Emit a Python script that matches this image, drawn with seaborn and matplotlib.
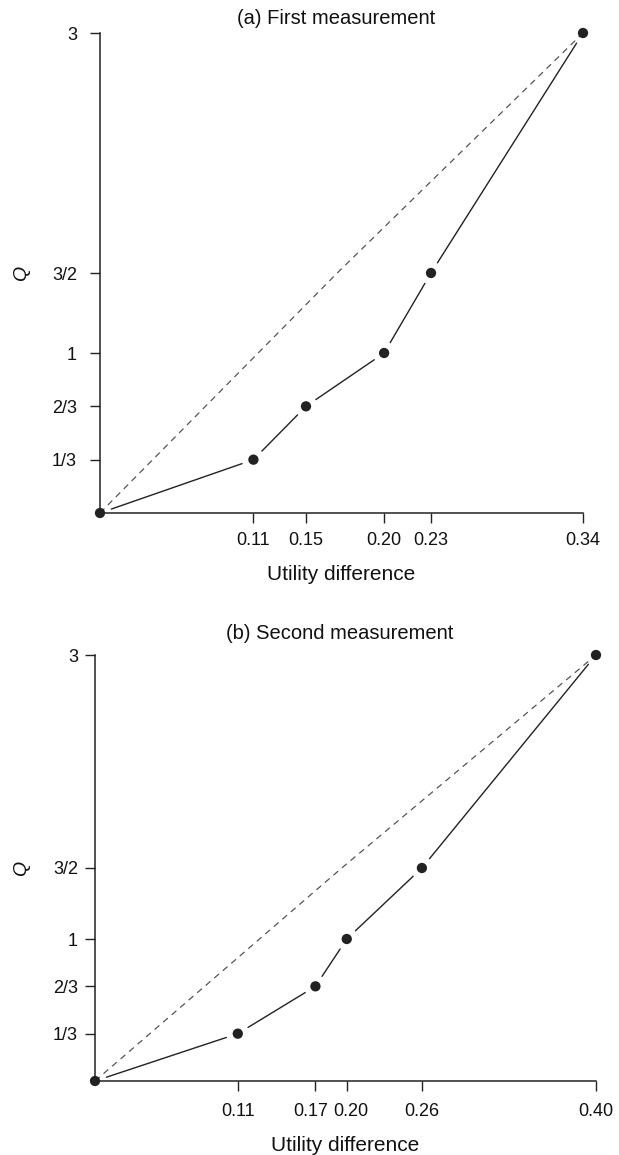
import matplotlib
matplotlib.use("Agg")
import matplotlib.pyplot as plt
import matplotlib.transforms as mtransforms
import numpy as np
import pandas as pd
import seaborn as sns

# Data
q_levels = [0, 1/3, 2/3, 1, 3/2, 3]
q_ticks = [1/3, 2/3, 1, 3/2, 3]
q_tick_labels = ["1/3", "2/3", "1", "3/2", "3"]

first_diff = [0, 0.108, 0.145, 0.200, 0.233, 0.340]
first_ticklabels = ["0.11", "0.15", "0.20", "0.23", "0.34"]
first_ref_x = [0, 0.167, 0.340]
first_ref_q = [0, 3/2, 3]

second_diff = [0, 0.114, 0.176, 0.201, 0.261, 0.400]
second_ticklabels = ["0.11", "0.17", "0.20", "0.26", "0.40"]
second_ref_x = [0, 0.197, 0.400]
second_ref_q = [0, 3/2, 3]

W, H = 619, 1155
ink = "#222222"

sns.set_style("ticks")
plt.rcParams["font.family"] = ["Liberation Sans", "DejaVu Sans"]

fig = plt.figure(figsize=(W / 100, H / 100), dpi=100)


def gapped_segments(ax, xs, ys, gap=12):
    """R type='b' look: break the line around each point (gap in pixels)"""
    rows = []
    pts = ax.transData.transform(np.column_stack([xs, ys]))
    inv = ax.transData.inverted()
    for i in range(len(pts) - 1):
        p0, p1 = pts[i], pts[i + 1]
        d = p1 - p0
        n = np.hypot(*d)
        if n <= 2 * gap:
            continue
        u = d / n
        a = inv.transform(p0 + u * gap)
        b = inv.transform(p1 - u * gap)
        rows.append({"seg": i, "x": a[0], "y": a[1]})
        rows.append({"seg": i, "x": b[0], "y": b[1]})
    return pd.DataFrame(rows)


def panel(rect_px, xs, ticklabels, ref_x, ref_q, title, title_px, xlab_base,
          ypad, xpad):
    x0, y_top, x1, y_bot = rect_px
    ax = fig.add_axes([x0 / W, (H - y_bot) / H, (x1 - x0) / W, (y_bot - y_top) / H])
    xmax = xs[-1]
    ax.set_xlim(0, xmax)
    ax.set_ylim(0, 3)

    # dashed reference line
    ref = pd.DataFrame({"x": ref_x, "y": ref_q})
    sns.lineplot(data=ref, x="x", y="y", ax=ax, color="#555555", lw=0.9,
                 dashes=False, linestyle=(0, (5, 4)), clip_on=False, zorder=1)

    # solid line with gaps around the points
    segs = gapped_segments(ax, xs, q_levels)
    sns.lineplot(data=segs, x="x", y="y", units="seg", estimator=None, ax=ax,
                 color=ink, lw=1.0, clip_on=False, zorder=2)

    sns.scatterplot(x=xs, y=q_levels, ax=ax, s=55, color=ink, edgecolor="none",
                    clip_on=False, zorder=3)

    ax.set_xlim(0, xmax)
    ax.set_ylim(0, 3)
    sns.despine(ax=ax)
    for s in ["left", "bottom"]:
        ax.spines[s].set_linewidth(1.1)
        ax.spines[s].set_color(ink)

    ax.set_xticks(xs[1:])
    ax.set_xticklabels(ticklabels)
    ax.set_yticks(q_ticks)
    ax.set_yticklabels(q_tick_labels)
    ax.tick_params(axis="both", direction="out", length=7, width=1.0,
                   color=ink, labelsize=13, labelcolor="#111111")
    ax.tick_params(axis="y", pad=ypad)
    ax.tick_params(axis="x", pad=xpad)

    ax.set_xlabel("Utility difference", fontsize=15, color="#111111", va="baseline")
    ax.xaxis.set_label_coords(0.5, -(xlab_base - y_bot) / (y_bot - y_top))
    ax.set_ylabel("Q", fontsize=14, style="italic", color="#111111",
                  rotation=90, ha="center", va="center")
    ax.yaxis.set_label_coords((22 - x0) / (x1 - x0), 0.5)

    fig.text(title_px[0] / W, 1 - title_px[1] / H, title, fontsize=14.5,
             color="#111111", ha="center", va="baseline")
    return ax


panel((100, 33, 583, 513), first_diff, first_ticklabels, first_ref_x, first_ref_q,
      "(a) First measurement", (336, 24), 580, ypad=9.5, xpad=7.0)
ax_b = panel((95, 655, 596, 1081), second_diff, second_ticklabels, second_ref_x,
             second_ref_q, "(b) Second measurement", (340, 639), 1151,
             ypad=5.3, xpad=8.5)

# the two crowded labels in (b) are nudged apart, as in the original
for lab, dx in zip(ax_b.get_xticklabels()[1:3], [-5, 4]):
    lab.set_transform(lab.get_transform() +
                      mtransforms.ScaledTranslation(dx / 100, 0, fig.dpi_scale_trans))

fig.savefig("out.png", dpi=100)
